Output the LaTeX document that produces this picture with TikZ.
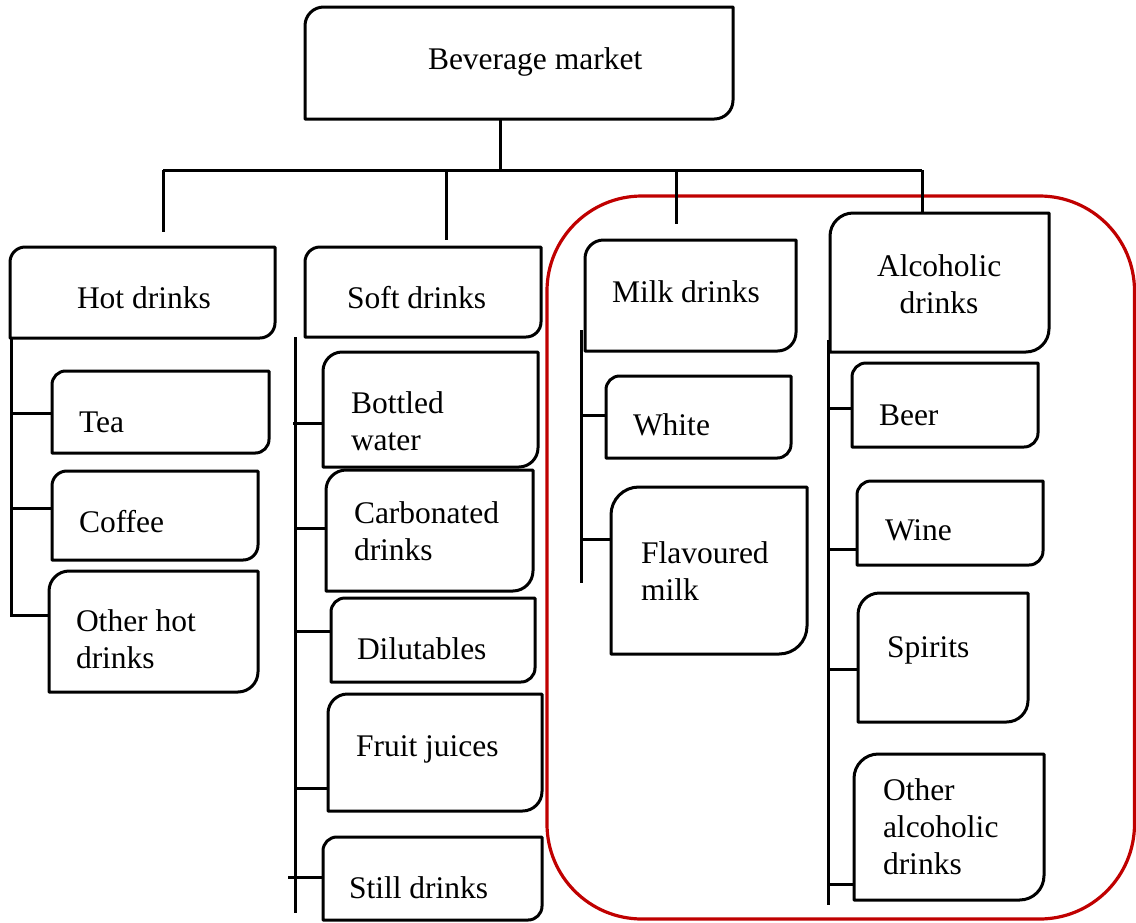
\documentclass[tikz,border=0pt]{standalone}
\usepackage{fontspec}
\setmainfont{Liberation Serif}
\definecolor{hlred}{RGB}{192,0,0}
\tikzset{
  boxline/.style={line width=3pt, draw=black, line join=round},
  conn/.style={line width=3pt, draw=black},
  lbl/.style={inner sep=0pt, outer sep=0pt, font=\fontsize{31.5}{36.8}\selectfont},
  frame/.style={line width=3.2pt, draw=hlred, rounded corners=95pt}
}
% name, x1, y1 (top), x2, y2 (bottom) in pixels
\newcommand{\cbox}[5]{%
  \pgfmathsetmacro\rr{min(#4-#2,#5-#3)/6}%
  \draw[boxline] (#2,-#5) -- (#2,-#3-\rr) arc[start angle=180,end angle=90,radius=\rr pt]
     -- (#4,-#3) -- (#4,-#5+\rr) arc[start angle=0,end angle=-90,radius=\rr pt] -- cycle;
  \node[inner sep=0pt, outer sep=0pt, minimum width=#4pt-#2pt, minimum height=#5pt-#3pt]
     (#1) at ({(#2+#4)/2},{-(#3+#5)/2}) {};%
}
\begin{document}
\begin{tikzpicture}[x=1pt,y=1pt]
\useasboundingbox (0,0) rectangle (1136,-922);
\fill[white] (0,0) rectangle (1136,-922);

% highlight frame
\draw[frame] (547,-196) rectangle (1134.5,-919);

% boxes
\cbox{market}{305}{7}{733}{119}
\cbox{hot}{10}{247}{275}{338}
\cbox{soft}{305}{247}{541}{337}
\cbox{milk}{585}{240}{796}{351}
\cbox{alc}{830}{213}{1049}{352}

\cbox{tea}{52}{371}{269}{453}
\cbox{coffee}{52}{471}{258}{560}
\cbox{ohd}{49}{571}{258}{692}

\cbox{bottled}{323}{352}{538}{467}
\cbox{carb}{326}{470}{533}{591}
\cbox{dil}{331}{598}{535}{682}
\cbox{fruit}{328}{694}{542}{811}
\cbox{still}{323}{837}{542}{920}

\cbox{white}{606}{376}{791}{458}
\cbox{flav}{611}{487}{807}{654}

\cbox{beer}{852}{363}{1038}{447}
\cbox{wine}{857}{481}{1043}{565}
\cbox{spirits}{858}{593}{1028}{722}
\cbox{oad}{854}{754}{1044}{900}

% labels
\node[lbl, anchor=base west] (market-l) at (428,-69) {Beverage market};
\node[lbl, anchor=base west] (hot-l) at (77,-308) {Hot drinks};
\node[lbl, anchor=base west] (soft-l) at (347,-308) {Soft drinks};
\node[lbl, anchor=base west] (milk-l) at (612,-302) {Milk drinks};
\node[lbl, anchor=base west, align=center] (alc-l) at (877,-313) {Alcoholic\\drinks};

\node[lbl, anchor=base west] (tea-l) at (79,-432) {Tea};
\node[lbl, anchor=base west] (coffee-l) at (79,-532) {Coffee};
\node[lbl, anchor=base west, align=left] (ohd-l) at (76,-668) {Other hot\\drinks};

\node[lbl, anchor=base west, align=left] (bottled-l) at (351,-450) {Bottled\\water};
\node[lbl, anchor=base west, align=left] (carb-l) at (354,-560) {Carbonated\\drinks};
\node[lbl, anchor=base west] (dil-l) at (357,-659) {Dilutables};
\node[lbl, anchor=base west] (fruit-l) at (356,-756) {Fruit juices};
\node[lbl, anchor=base west] (still-l) at (349,-898) {Still drinks};

\node[lbl, anchor=base west] (white-l) at (633,-435) {White};
\node[lbl, anchor=base west, align=left] (flav-l) at (641,-600) {Flavoured\\milk};

\node[lbl, anchor=base west] (beer-l) at (879,-425) {Beer};
\node[lbl, anchor=base west] (wine-l) at (885,-540) {Wine};
\node[lbl, anchor=base west] (spirits-l) at (887,-657) {Spirits};
\node[lbl, anchor=base west, align=left] (oad-l) at (883,-874) {Other\\alcoholic\\drinks};

% top-level connectors
\coordinate (busC) at (500,-170);
\coordinate (busL) at (163,-170);
\coordinate (busS) at (446,-170);
\coordinate (busM) at (676,-170);
\coordinate (busA) at (922,-170);
\coordinate (hotTop) at (163,-232);
\coordinate (softTop) at (446,-240);
\coordinate (milkTop) at (676,-224);
\draw[conn] (busC |- market.south) -- (busC);
\draw[conn] (busL) -- (busA);
\draw[conn] (busL) -- (hotTop);
\draw[conn] (busS) -- (softTop);
\draw[conn] (busM) -- (milkTop);
\draw[conn] (busA) -- (busA |- alc.north);

% hot drinks spine
\coordinate (hotSp) at (11,-338);
\coordinate (hotEnd) at (11,-615);
\draw[conn] (hotSp) -- (hotEnd) -- (ohd.west |- hotEnd);
\draw[conn] (11,-413) -- (tea.west |- 11,-413);
\draw[conn] (11,-508) -- (coffee.west |- 11,-508);

% soft drinks spine
\coordinate (softSp) at (295,-337);
\coordinate (softEnd) at (295,-913);
\draw[conn] (softSp) -- (softEnd);
\draw[conn] (293,-423) -- (bottled.west |- 0,-423);
\draw[conn] (295,-528) -- (carb.west |- 0,-528);
\draw[conn] (295,-631) -- (dil.west |- 0,-631);
\draw[conn] (295,-788) -- (fruit.west |- 0,-788);
\draw[conn] (288,-877) -- (still.west |- 0,-877);

% milk spine
\coordinate (milkSp) at (581,-330);
\coordinate (milkEnd) at (581,-583);
\draw[conn] (milkSp) -- (milkEnd);
\draw[conn] (581,-415) -- (white.west |- 0,-415);
\draw[conn] (581,-539) -- (flav.west |- 0,-539);

% alcoholic spine
\coordinate (alcSp) at (828,-340);
\coordinate (alcEnd) at (828,-905);
\draw[conn] (alcSp) -- (alcEnd);
\draw[conn] (828,-408) -- (beer.west |- 0,-408);
\draw[conn] (828,-549) -- (wine.west |- 0,-549);
\draw[conn] (828,-669) -- (spirits.west |- 0,-669);
\draw[conn] (828,-884) -- (oad.west |- 0,-884);
\end{tikzpicture}
\end{document}
